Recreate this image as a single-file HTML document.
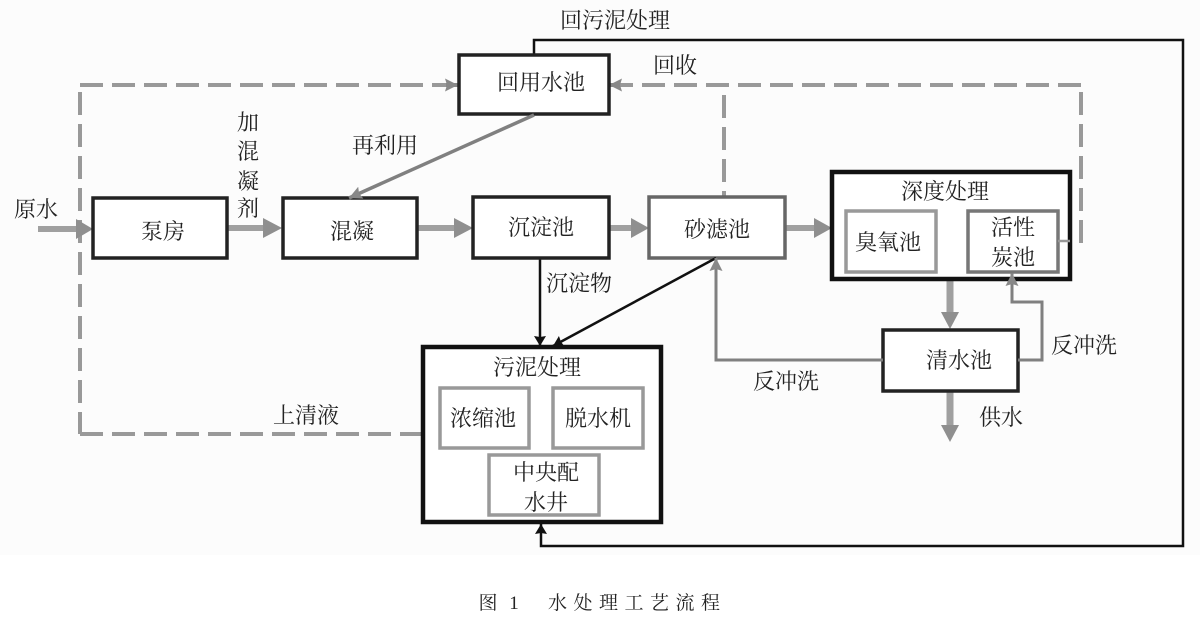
<!DOCTYPE html>
<html><head><meta charset="utf-8"><style>
html,body{margin:0;padding:0;background:#fff}
svg{display:block}
text{font-family:"Liberation Serif","Noto Serif CJK SC",serif;fill:#222;font-size:22px;text-anchor:middle}
</style></head><body>
<svg width="1200" height="637" viewBox="0 0 1200 637" xmlns="http://www.w3.org/2000/svg">
<defs>
<marker id="k" markerWidth="10" markerHeight="12" refX="10" refY="6" orient="auto" markerUnits="userSpaceOnUse"><path d="M0,0L10,6L0,12L1,6Z" fill="#111"/></marker>
<marker id="g2" markerWidth="13" markerHeight="13" refX="13" refY="6.5" orient="auto" markerUnits="userSpaceOnUse"><path d="M0,0L13,6.5L0,13L2,6.5Z" fill="#888"/></marker>
</defs>
<rect width="1200" height="555" fill="#fcfcfc"/>
<g fill="none" stroke="#999" stroke-width="4" stroke-dasharray="23 9">
<path d="M80 92V434"/>
<path d="M80 434H422"/>
<path d="M80 85H448"/>
<path d="M1081 243V85"/>
<path d="M1081 85H620"/>
<path d="M724 95V196"/>
</g>
<path d="M446 85H458" stroke="#888" stroke-width="4" fill="none" marker-end="url(#g2)"/>
<path d="M620 85H609" stroke="#888" stroke-width="4" fill="none" marker-end="url(#g2)"/>
<g fill="none" stroke="#a0a0a0" stroke-width="6">
<path d="M38 229H78"/>
<path d="M228 228H264"/>
<path d="M418 228H456"/>
<path d="M610 228H632"/>
<path d="M786 228H815"/>
<path d="M950 280V312" stroke-width="7"/>
<path d="M950 391V426" stroke-width="7"/>
</g>
<g fill="#8f8f8f">
<polygon points="76,219 93,229 76,239"/>
<polygon points="263,218 282,228 263,238"/>
<polygon points="454,218 473,228 454,238"/>
<polygon points="631,218 649,228 631,238"/>
<polygon points="814,218 832,228 814,238"/>
<polygon points="941,312 959,312 950,329"/>
<polygon points="941,425 959,425 950,442"/>
</g>
<g fill="none" stroke="#111" stroke-width="2.5">
<path d="M540 258V346" marker-end="url(#k)"/>
<path d="M534 54V40H1183V546H541V524" marker-end="url(#k)"/>
</g>
<g fill="#fff" stroke="#222" stroke-width="3.5">
<rect x="459" y="55" width="150" height="59"/>
<rect x="93" y="198" width="134" height="60"/>
<rect x="283" y="198" width="134" height="60"/>
<rect x="473" y="197" width="136" height="61"/>
<rect x="883" y="330" width="135" height="61"/>
</g>
<rect x="649" y="197" width="136" height="61" fill="#fff" stroke="#666" stroke-width="3.5"/>
<g fill="#fff" stroke="#111" stroke-width="4.5">
<rect x="832" y="172" width="238" height="107"/>
<rect x="423" y="347" width="238" height="175"/>
</g>
<g fill="#fff" stroke="#999" stroke-width="3.5">
<rect x="846" y="211" width="90" height="61"/>
<rect x="440" y="388" width="89" height="60"/>
<rect x="553" y="388" width="90" height="60"/>
<rect x="489" y="455" width="110" height="60"/>
</g>
<rect x="968" y="211" width="90" height="61" fill="#fff" stroke="#777" stroke-width="3.5"/>
<path d="M1058 241H1070" stroke="#999" stroke-width="2.5" fill="none"/>
<path d="M534 115L349 198" stroke="#808080" stroke-width="3.5" fill="none" marker-end="url(#g2)"/>
<path d="M716 258L553 346" stroke="#111" stroke-width="2.5" fill="none" marker-end="url(#k)"/>
<g fill="none" stroke="#808080" stroke-width="3">
<path d="M883 360H716V258" marker-end="url(#g2)"/>
<path d="M1018 360H1042V302H1012V273" marker-end="url(#g2)"/>
</g>
<text x="615" y="28">回污泥处理</text>
<text x="675" y="73">回收</text>
<text x="541" y="90">回用水池</text>
<text x="385" y="153">再利用</text>
<text x="36" y="217">原水</text>
<text x="248" y="130">加</text><text x="248" y="159">混</text><text x="248" y="189">凝</text><text x="248" y="216">剂</text>
<text x="163" y="239">泵房</text>
<text x="352" y="239">混凝</text>
<text x="541" y="235">沉淀池</text>
<text x="717" y="237">砂滤池</text>
<text x="945" y="199">深度处理</text>
<text x="888" y="250">臭氧池</text>
<text x="1013" y="235">活性</text><text x="1013" y="265">炭池</text>
<text x="579" y="291">沉淀物</text>
<text x="1084" y="353">反冲洗</text>
<text x="959" y="368">清水池</text>
<text x="786" y="389">反冲洗</text>
<text x="1001" y="425">供水</text>
<text x="537" y="375">污泥处理</text>
<text x="483" y="426">浓缩池</text>
<text x="598" y="426">脱水机</text>
<text x="306" y="423">上清液</text>
<text x="546" y="480">中央配</text><text x="546" y="510">水井</text>
<text x="488" y="609" style="font-size:19px">图</text>
<text x="514" y="609" style="font-size:19px">1</text>
<text x="548" y="609" style="font-size:19px;text-anchor:start;letter-spacing:6.5px">水处理工艺流程</text>
</svg>
</body></html>
